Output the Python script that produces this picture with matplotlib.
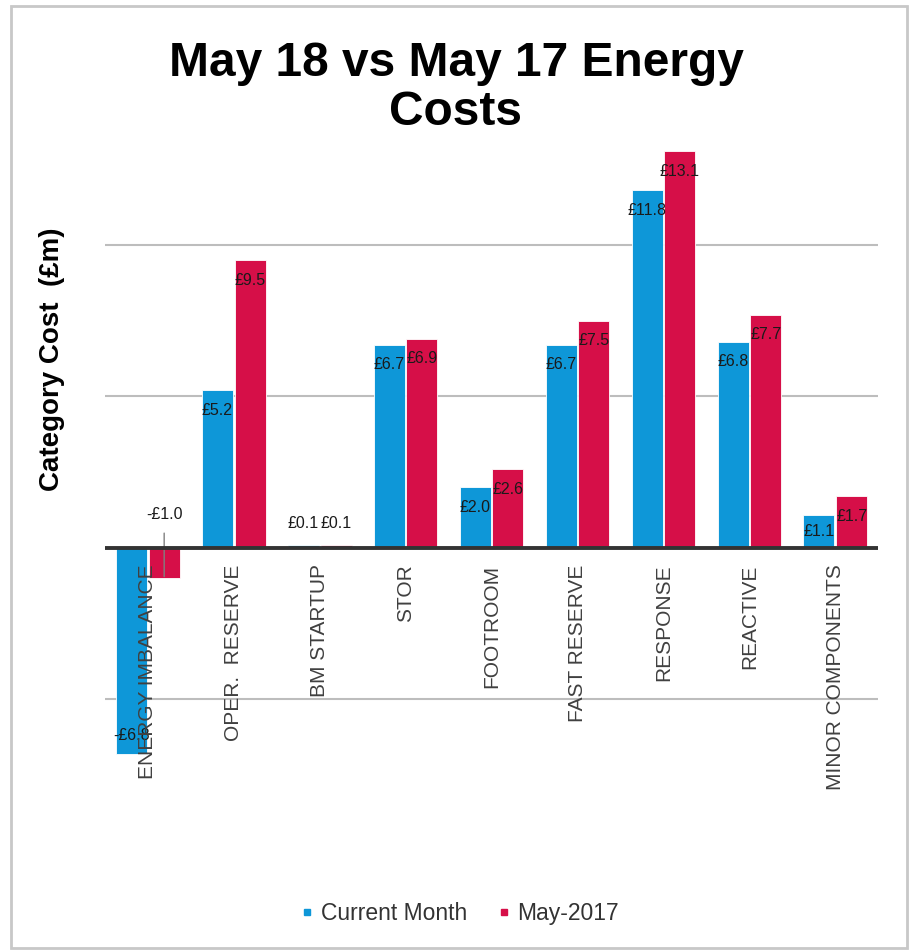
import numpy as np
import matplotlib
matplotlib.use("Agg")
import matplotlib.pyplot as plt
from matplotlib.lines import Line2D
from matplotlib.patches import Rectangle

plt.rcParams['font.family'] = ['Liberation Sans', 'DejaVu Sans']

categories = ['ENERGY IMBALANCE', 'OPER.  RESERVE', 'BM STARTUP', 'STOR', 'FOOTROOM',
              'FAST RESERVE', 'RESPONSE', 'REACTIVE', 'MINOR COMPONENTS']
current_month = [-6.8, 5.2, 0.1, 6.7, 2.0, 6.7, 11.8, 6.8, 1.1]
may_2017 = [-1.0, 9.5, 0.1, 6.9, 2.6, 7.5, 13.1, 7.7, 1.7]
series_names = ['Current Month', 'May-2017']

BLUE = '#0E97D8'
RED = '#D60F48'
TXT = '#1a1a1a'


def fmt(v):
    return ('-£%.1f' % abs(v)) if v < 0 else '£%.1f' % v


def add_labels(ax, xs, vals):
    for x, v in zip(xs, vals):
        if v >= 0.5:
            # inside end, pulled down so it stays inside short bars
            ax.text(x, max(v - 0.66, v / 2), fmt(v), ha='center', va='center',
                    fontsize=11.5, color=TXT)
        elif v >= 0:
            ax.annotate(fmt(v), (x, v), xytext=(0, 10), textcoords='offset points',
                        ha='center', va='bottom', fontsize=11.5, color=TXT)
        elif v > -2:
            # short negative bar: label sits above the axis with a leader line
            ax.annotate(fmt(v), xy=(x, v + 0.05), xytext=(x, 1.1), ha='center',
                        va='center', fontsize=11.5, color=TXT,
                        arrowprops=dict(arrowstyle='-', color='#808080', lw=1,
                                        shrinkA=6, shrinkB=0))
        else:
            ax.text(x, v + 0.62, fmt(v), ha='center', va='center',
                    fontsize=11.5, color=TXT)


fig = plt.figure(figsize=(9.12, 9.52), dpi=100)
ax = fig.add_axes([0.115, 0.170, 0.848, 0.700])

x = np.arange(len(categories))
w = 0.36
off = 0.19
ax.bar(x - off, current_month, w, color=BLUE, edgecolor='white', linewidth=0.6, zorder=3)
ax.bar(x + off, may_2017, w, color=RED, edgecolor='white', linewidth=0.6, zorder=3)

add_labels(ax, x - off, current_month)
add_labels(ax, x + off, may_2017)

ax.set_xlim(-0.5, len(categories) - 0.5)
ax.set_ylim(-8, 14)
for g in [-5, 5, 10]:
    ax.axhline(g, color='#bdbdbd', lw=1.5, zorder=1)
ax.axhline(0, color='#333333', lw=2.8, zorder=4)

for s in ax.spines.values():
    s.set_visible(False)
ax.set_xticks([])
ax.set_yticks([])

# category names hang from the zero line
for xi, name in zip(x, categories):
    ax.annotate(name, (xi, 0), xytext=(0, -12), textcoords='offset points',
                rotation=90, ha='center', va='top', fontsize=15, color='#404040')

ax.set_ylabel('Category Cost  (£m)', fontsize=20, fontweight='bold')
ax.yaxis.set_label_coords(-0.052, 0.646)

fig.suptitle('May 18 vs May 17 Energy\nCosts', fontsize=34.5, fontweight='bold',
             y=0.957, linespacing=1.12)

handles = [Line2D([], [], marker='s', ls='none', color=BLUE, markersize=5),
           Line2D([], [], marker='s', ls='none', color=RED, markersize=5)]
fig.legend(handles, series_names, loc='center', bbox_to_anchor=(0.5, 0.040), ncol=2,
           frameon=False, fontsize=16.5, handletextpad=0.0, columnspacing=1.0,
           handlelength=1.2, labelcolor='#333333')

fig.patches.append(Rectangle((0.012, 0.004), 0.983, 0.99, transform=fig.transFigure,
                             fill=False, edgecolor='#c8c8c8', lw=2))

fig.savefig('out.png', dpi=100)
